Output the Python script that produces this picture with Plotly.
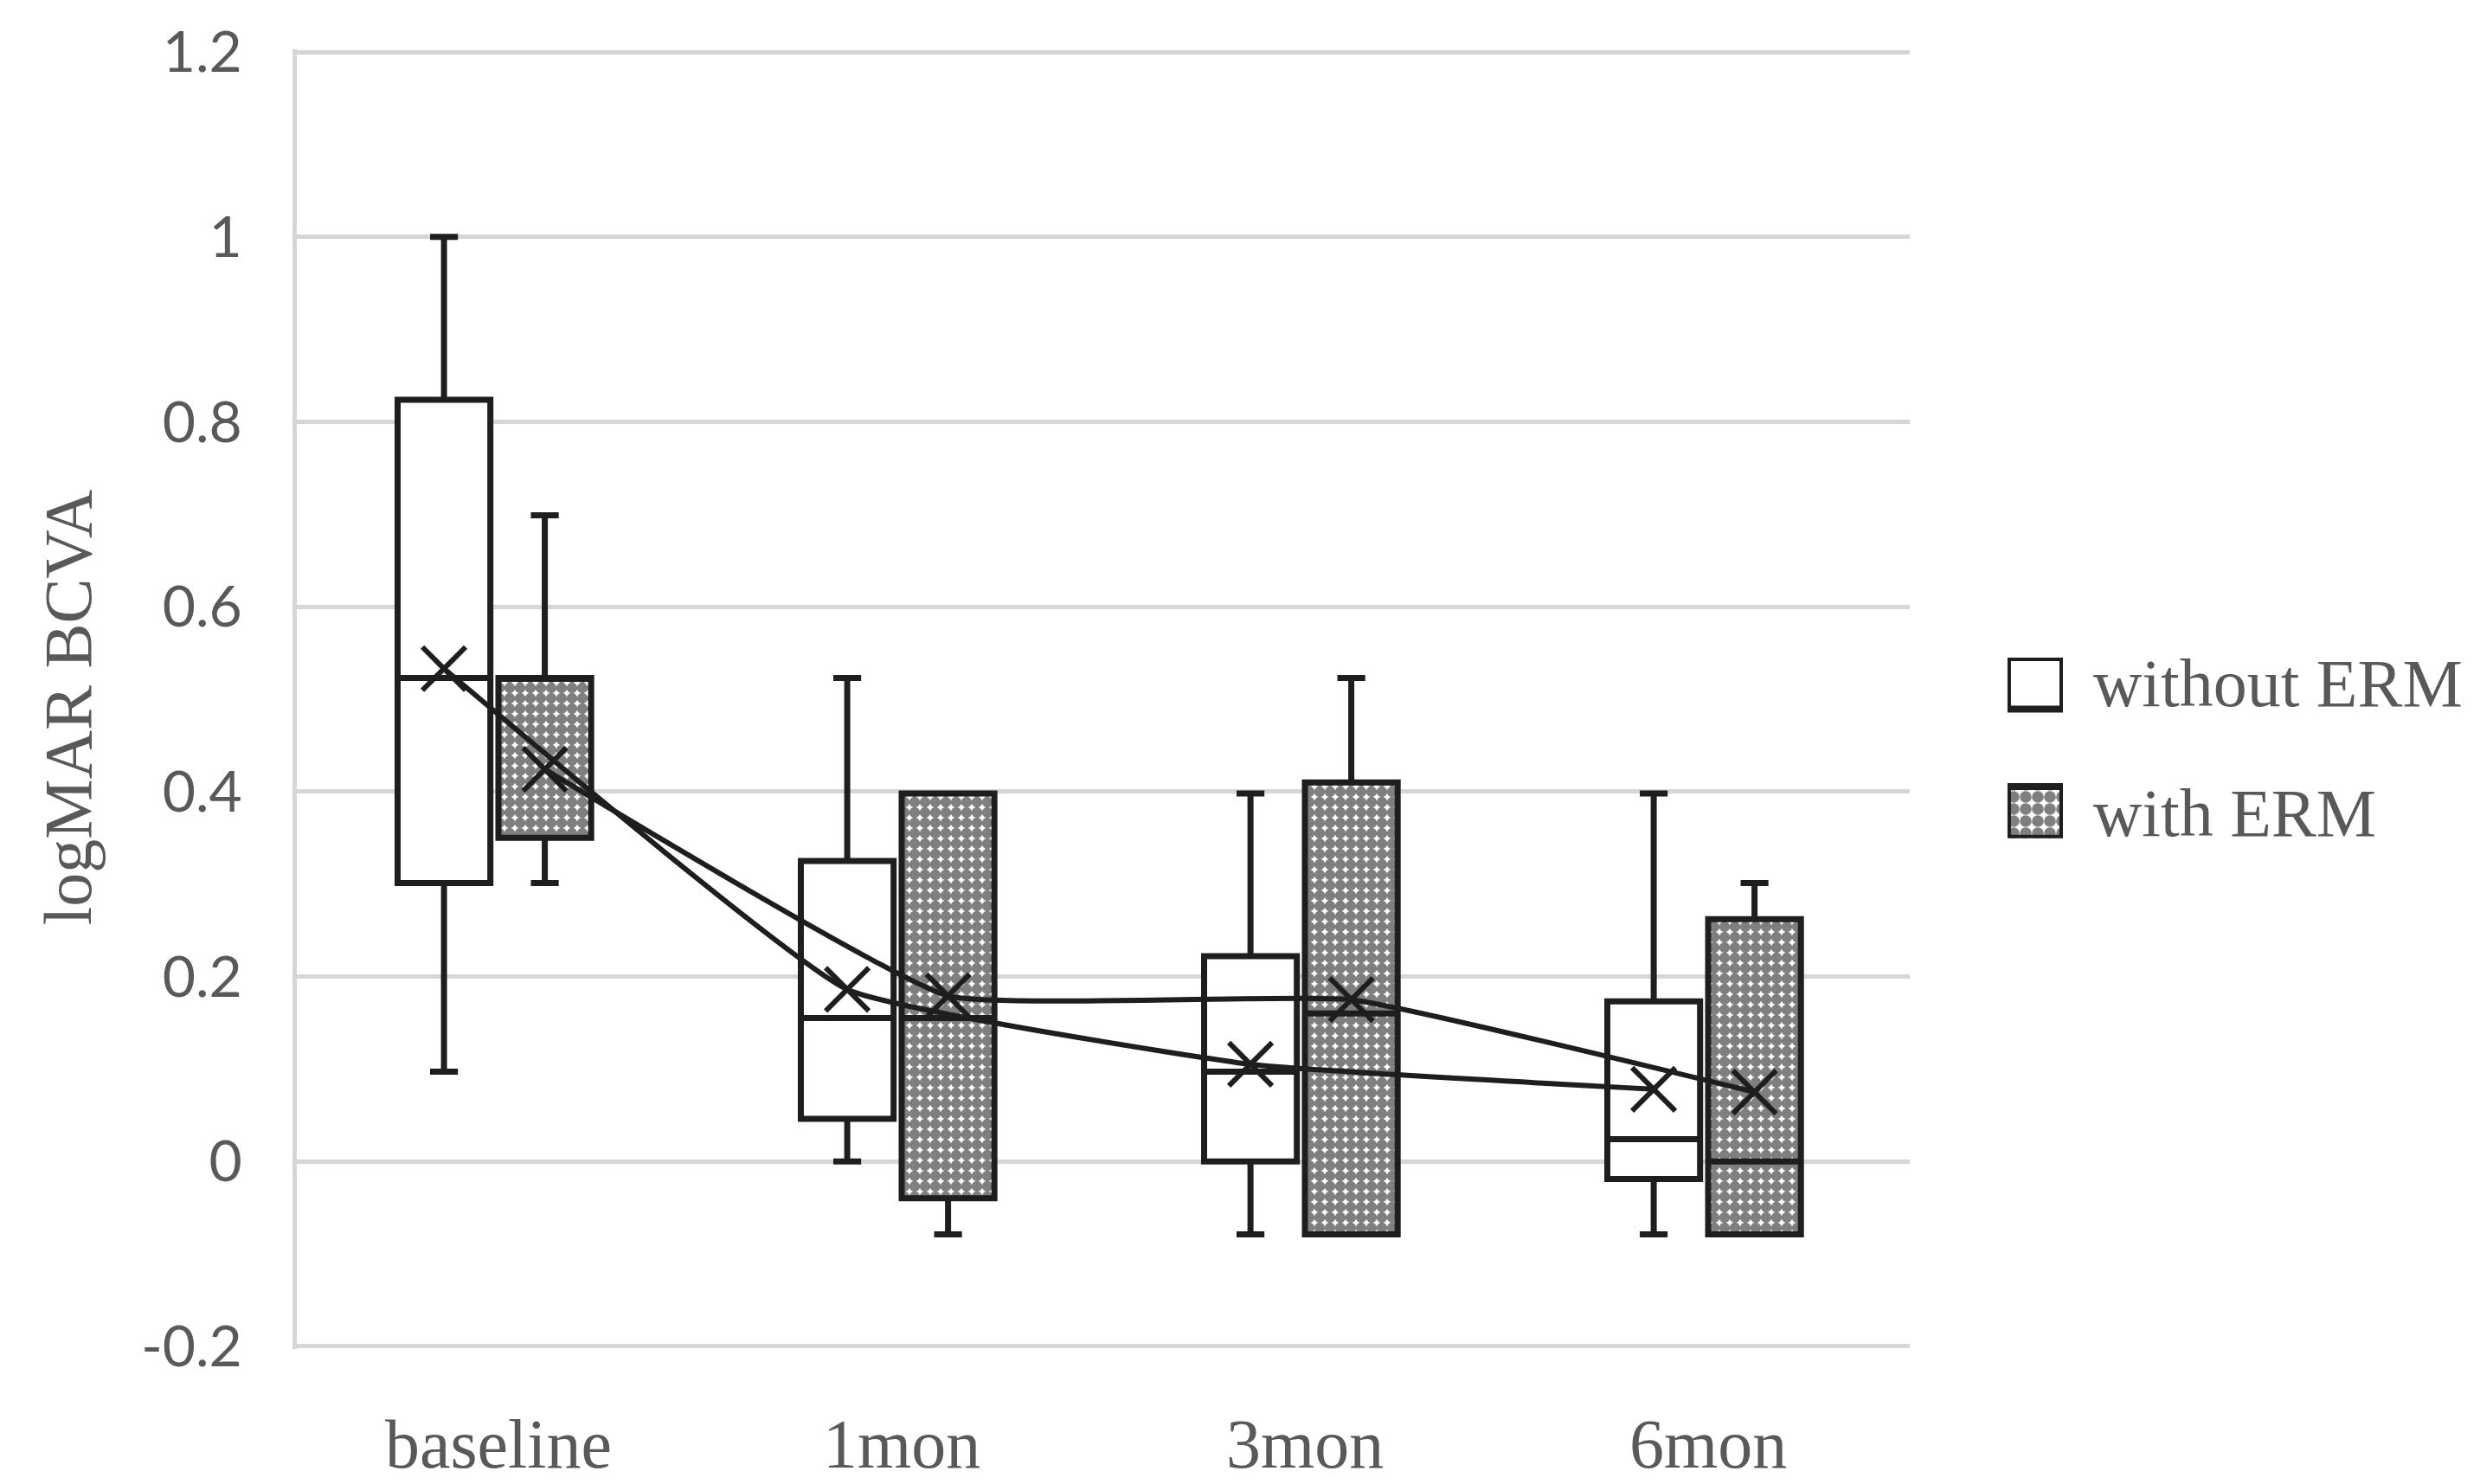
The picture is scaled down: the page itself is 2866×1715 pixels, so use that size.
import plotly.graph_objects as go

# ---------------- data ----------------
categories = ["baseline", "1mon", "3mon", "6mon"]

wo_upper  = [1.000, 0.523, 0.398, 0.398]
wo_q3     = [0.824, 0.325, 0.222, 0.173]
wo_median = [0.523, 0.155, 0.097, 0.024]
wo_q1     = [0.301, 0.046, 0.000, -0.019]
wo_lower  = [0.097, 0.000, -0.079, -0.079]
wo_mean   = [0.533, 0.186, 0.105, 0.078]

w_upper  = [0.699, 0.398, 0.523, 0.301]
w_q3     = [0.523, 0.398, 0.410, 0.262]
w_median = [0.523, 0.155, 0.160, 0.000]
w_q1     = [0.350, -0.040, -0.079, -0.079]
w_lower  = [0.301, -0.079, -0.079, -0.079]
w_mean   = [0.424, 0.179, 0.175, 0.075]

series_names = ["without ERM", "with ERM"]
y_ticks = [-0.2, 0, 0.2, 0.4, 0.6, 0.8, 1.0, 1.2]
y_ticktext = ["-0.2", "0", "0.2", "0.4", "0.6", "0.8", "1", "1.2"]

# ---------------- style ----------------
W, H = 2866, 1715
GREY_TXT = "#595959"
GRID = "#d6d6d6"
INK = "#1e1e1e"
SERIF = "Liberation Serif, Times New Roman, serif"
SANS = "Lato, Open Sans, sans-serif"
BOX_W = 0.23
OFF_WO, OFF_W = -0.135, 0.115
PLOT_RIGHT = 0.7394
LW = 7

idx = list(range(len(categories)))
x_wo = [i + OFF_WO for i in idx]
x_w = [i + OFF_W for i in idx]

checker = dict(shape=".", fgcolor="black", bgcolor="white", size=12, solidity=0.8, fillmode="overlay")

fig = go.Figure()

# patterned fill for "with ERM" boxes
fig.add_trace(go.Bar(
    x=x_w, y=[a - b for a, b in zip(w_q3, w_q1)], base=w_q1, width=BOX_W,
    marker=dict(color="white", pattern=checker, line=dict(width=0)),
    showlegend=False, hoverinfo="skip"))

# box outlines / whiskers
fig.add_trace(go.Box(
    x=x_wo, q1=wo_q1, median=wo_median, q3=wo_q3,
    lowerfence=wo_lower, upperfence=wo_upper, width=BOX_W,
    fillcolor="white", line=dict(color=INK, width=LW), whiskerwidth=0.3,
    name=series_names[0], showlegend=False))
fig.add_trace(go.Box(
    x=x_w, q1=w_q1, median=w_median, q3=w_q3,
    lowerfence=w_lower, upperfence=w_upper, width=BOX_W,
    fillcolor="rgba(0,0,0,0)", line=dict(color=INK, width=LW), whiskerwidth=0.3,
    name=series_names[1], showlegend=False))

# mean lines with X markers
for xs, ms in ((x_wo, wo_mean), (x_w, w_mean)):
    fig.add_trace(go.Scatter(
        x=xs, y=ms, mode="lines+markers",
        line=dict(color=INK, width=6, shape="spline", smoothing=0.35),
        marker=dict(symbol="x-thin", size=50, line=dict(width=6, color=INK)),
        showlegend=False, hoverinfo="skip"))

# legend icons (inset axis)
legend_base = [5, 0]
legend_height = [2, 2]
fig.add_trace(go.Bar(
    x=[0], y=[legend_height[0]], base=[legend_base[0]], width=1, xaxis="x2", yaxis="y2",
    marker=dict(color="white", line=dict(color=INK, width=8)),
    showlegend=False, hoverinfo="skip"))
fig.add_trace(go.Bar(
    x=[0], y=[legend_height[1]], base=[legend_base[1]], width=1, xaxis="x2", yaxis="y2",
    marker=dict(color="white", pattern=dict(shape=".", fgcolor="black", bgcolor="white",
                                            size=14, solidity=0.75, fillmode="overlay"),
                line=dict(color=INK, width=8)),
    showlegend=False, hoverinfo="skip"))

fig.update_layout(
    width=W, height=H,
    margin=dict(l=335, r=10, t=49, b=156),
    paper_bgcolor="white", plot_bgcolor="white",
    showlegend=False, barmode="overlay",
    xaxis=dict(domain=[0, PLOT_RIGHT], range=[-0.5, 3.5],
               tickvals=idx, ticktext=categories,
               showgrid=False, zeroline=False, showline=False,
               ticks="outside", ticklen=40, tickcolor="rgba(0,0,0,0)",
               tickfont=dict(family=SERIF, size=80, color=GREY_TXT)),
    yaxis=dict(range=[-0.203, 1.203], tickvals=y_ticks, ticktext=y_ticktext,
               showgrid=True, gridcolor=GRID, gridwidth=5,
               zeroline=False, showline=True, linecolor=GRID, linewidth=5,
               ticks="outside", ticklen=45, tickcolor="rgba(0,0,0,0)",
               tickfont=dict(family=SANS, size=66, color=GREY_TXT)),
    xaxis2=dict(domain=[0.7842, 0.8096], range=[-0.5, 0.5], visible=False, anchor="y2"),
    yaxis2=dict(domain=[0.393, 0.532], range=[0, 7], visible=False, anchor="x2"),
    annotations=[
        dict(text="logMAR BCVA", textangle=-90, xref="paper", yref="paper",
             x=-0.105, y=0.494, xanchor="center", yanchor="middle", showarrow=False,
             font=dict(family=SERIF, size=78, color=GREY_TXT)),
        dict(text=series_names[0], xref="paper", yref="paper", x=0.8227, y=0.512,
             xanchor="left", yanchor="middle", showarrow=False,
             font=dict(family=SERIF, size=78, color=GREY_TXT)),
        dict(text=series_names[1], xref="paper", yref="paper", x=0.8227, y=0.4126,
             xanchor="left", yanchor="middle", showarrow=False,
             font=dict(family=SERIF, size=78, color=GREY_TXT)),
    ],
)

fig.write_html("out.html")
